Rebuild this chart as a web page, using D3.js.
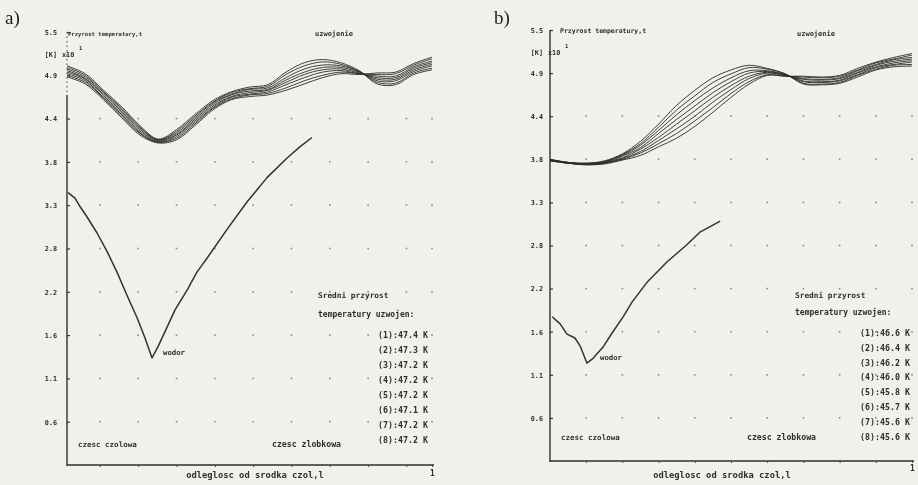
<!DOCTYPE html>
<html>
<head>
<meta charset="utf-8">
<script src="https://cdn.jsdelivr.net/npm/d3@7"></script>
<style>
  html, body { margin: 0; padding: 0; background: #f0f0ec; }
  svg { display: block; }
  text { font-family: "DejaVu Sans Mono", monospace; font-weight: bold; fill: #2e2e2e; }
</style>
</head>
<body>
<svg width="918" height="485"></svg>
<script>
// x positions (fraction of distance from the centre of the end region) shared by the winding curves
const xs = [0, 0.05, 0.1, 0.15, 0.2, 0.25, 0.3, 0.35, 0.4, 0.45, 0.5, 0.55, 0.6, 0.65, 0.7, 0.75, 0.8, 0.85, 0.9, 0.95, 1];

// y axis ticks ([K] x10)
const yTickValues = [5.5, 4.95, 4.4, 3.85, 3.3, 2.75, 2.2, 1.65, 1.1, 0.55];
const yTickLabels = ["5.5", "4.9", "4.4", "3.8", "3.3", "2.8", "2.2", "1.6", "1.1", "0.6"];

// panel a) - winding temperature rise, curves (1)..(8)
const a1 = [5.07, 4.97, 4.76, 4.55, 4.31, 4.14, 4.26, 4.45, 4.63, 4.74, 4.80, 4.83, 4.99, 5.11, 5.15, 5.11, 5.01, 4.84, 4.83, 4.96, 5.02];
const a2 = [5.05, 4.95, 4.74, 4.53, 4.29, 4.13, 4.24, 4.43, 4.61, 4.73, 4.78, 4.81, 4.96, 5.07, 5.12, 5.09, 5.00, 4.86, 4.85, 4.98, 5.04];
const a3 = [5.03, 4.93, 4.73, 4.51, 4.28, 4.13, 4.22, 4.41, 4.60, 4.71, 4.77, 4.79, 4.92, 5.03, 5.08, 5.07, 5.00, 4.88, 4.88, 5.00, 5.07];
const a4 = [5.01, 4.91, 4.71, 4.49, 4.26, 4.12, 4.20, 4.39, 4.58, 4.70, 4.75, 4.77, 4.89, 4.99, 5.05, 5.05, 4.99, 4.90, 4.90, 5.02, 5.09];
const a5 = [4.99, 4.90, 4.69, 4.47, 4.24, 4.11, 4.19, 4.37, 4.56, 4.68, 4.73, 4.76, 4.86, 4.96, 5.02, 5.03, 4.98, 4.92, 4.92, 5.04, 5.11];
const a6 = [4.97, 4.88, 4.67, 4.45, 4.22, 4.10, 4.17, 4.35, 4.54, 4.67, 4.71, 4.74, 4.83, 4.92, 4.99, 5.01, 4.97, 4.94, 4.94, 5.06, 5.13];
const a7 = [4.95, 4.86, 4.66, 4.43, 4.21, 4.10, 4.15, 4.33, 4.53, 4.65, 4.70, 4.72, 4.79, 4.88, 4.95, 4.99, 4.97, 4.96, 4.97, 5.08, 5.16];
const a8 = [4.93, 4.84, 4.64, 4.41, 4.19, 4.09, 4.13, 4.31, 4.51, 4.64, 4.68, 4.70, 4.76, 4.84, 4.92, 4.97, 4.96, 4.98, 4.99, 5.10, 5.18];

// panel a) - hydrogen ("wodor")
const wodorAx = [0.003, 0.022, 0.036, 0.055, 0.082, 0.110, 0.137, 0.164, 0.192, 0.214, 0.233, 0.249, 0.271, 0.296, 0.329, 0.356, 0.384, 0.438, 0.493, 0.548, 0.603, 0.638, 0.671];
const wodorAv = [3.46, 3.39, 3.28, 3.15, 2.95, 2.71, 2.45, 2.16, 1.87, 1.61, 1.36, 1.50, 1.72, 1.97, 2.22, 2.45, 2.63, 2.99, 3.34, 3.65, 3.90, 4.04, 4.16];

// panel b)
const b1 = [3.85, 3.81, 3.80, 3.83, 3.92, 4.08, 4.30, 4.54, 4.73, 4.89, 4.99, 5.05, 5.01, 4.94, 4.81, 4.80, 4.82, 4.90, 4.99, 5.03, 5.04];
const b2 = [3.85, 3.81, 3.80, 3.82, 3.91, 4.05, 4.26, 4.48, 4.66, 4.83, 4.94, 5.02, 5.00, 4.94, 4.82, 4.81, 4.83, 4.92, 5.00, 5.05, 5.06];
const b3 = [3.84, 3.81, 3.79, 3.82, 3.90, 4.03, 4.22, 4.42, 4.60, 4.76, 4.89, 4.98, 4.98, 4.93, 4.84, 4.83, 4.85, 4.93, 5.02, 5.06, 5.09];
const b4 = [3.84, 3.81, 3.79, 3.81, 3.89, 4.00, 4.18, 4.36, 4.53, 4.70, 4.84, 4.95, 4.97, 4.93, 4.85, 4.84, 4.86, 4.95, 5.03, 5.08, 5.11];
const b5 = [3.84, 3.80, 3.79, 3.81, 3.87, 3.98, 4.13, 4.30, 4.47, 4.64, 4.79, 4.91, 4.96, 4.92, 4.87, 4.86, 4.88, 4.96, 5.05, 5.10, 5.13];
const b6 = [3.84, 3.80, 3.79, 3.80, 3.86, 3.95, 4.09, 4.24, 4.40, 4.58, 4.74, 4.88, 4.95, 4.92, 4.88, 4.87, 4.89, 4.98, 5.06, 5.12, 5.15];
const b7 = [3.83, 3.80, 3.78, 3.80, 3.85, 3.93, 4.05, 4.18, 4.34, 4.51, 4.69, 4.84, 4.93, 4.91, 4.90, 4.89, 4.91, 4.99, 5.08, 5.13, 5.18];
const b8 = [3.83, 3.80, 3.78, 3.79, 3.84, 3.90, 4.01, 4.12, 4.27, 4.45, 4.64, 4.81, 4.92, 4.91, 4.91, 4.90, 4.92, 5.01, 5.09, 5.15, 5.20];

const wodorBx = [0.006, 0.028, 0.047, 0.069, 0.083, 0.102, 0.119, 0.146, 0.171, 0.202, 0.227, 0.268, 0.323, 0.378, 0.414, 0.450, 0.470];
const wodorBv = [1.84, 1.75, 1.62, 1.57, 1.47, 1.25, 1.31, 1.45, 1.63, 1.84, 2.03, 2.28, 2.54, 2.76, 2.92, 3.01, 3.06];

// legends
const legendA = ["(1):47.4 K", "(2):47.3 K", "(3):47.2 K", "(4):47.2 K", "(5):47.2 K", "(6):47.1 K", "(7):47.2 K", "(8):47.2 K"];
const legendB = ["(1):46.6 K", "(2):46.4 K", "(3):46.2 K", "(4):46.0 K", "(5):45.8 K", "(6):45.7 K", "(7):45.6 K", "(8):45.6 K"];

// dotted grid columns
const gridA = [0.09, 0.195, 0.3, 0.405, 0.51, 0.615, 0.72, 0.825, 0.93, 1];
const gridB = [0.1, 0.2, 0.3, 0.4, 0.5, 0.6, 0.7, 0.8, 0.9, 1];

const svg = d3.select("svg");
svg.append("rect").attr("width", 918).attr("height", 485).attr("fill", "#f0f0ec");
svg.append("defs").append("filter").attr("id", "soft")
  .append("feGaussianBlur").attr("stdDeviation", 0.35);
const root = svg.append("g").attr("filter", "url(#soft)");

function txt(g, s, x, y, size, anchor) {
  return g.append("text").attr("x", x).attr("y", y)
    .attr("text-anchor", anchor || "start")
    .style("font-size", size + "px")
    .text(s);
}

function drawPanel(p) {
  const x = d3.scaleLinear().domain([0, 1]).range([p.l, p.r]);
  const y = d3.scaleLinear().domain([0, 5.5]).range([p.b, p.t]);
  const g = root.append("g");

  // dotted grid
  yTickValues.slice(2).forEach(v => {
    g.selectAll(null).data(p.grid).enter().append("rect")
      .attr("x", d => x(d) - 0.8).attr("y", y(v) - 0.8)
      .attr("width", 1.6).attr("height", 1.6)
      .attr("fill", "#8a8a8a");
  });

  // y axis
  const axis = d3.axisLeft(y)
    .tickValues(yTickValues)
    .tickFormat((d, i) => yTickLabels[i])
    .tickSizeInner(-3).tickSizeOuter(0).tickPadding(p.pad);
  const ga = g.append("g").attr("transform", `translate(${p.l},0)`).call(axis);
  ga.select(".domain").remove();
  ga.selectAll("line").attr("stroke", "#333").attr("stroke-width", 1.2);
  ga.selectAll("text").style("font-size", "6.8px").attr("dy", "0.35em");

  g.append("line")
    .attr("x1", p.l).attr("x2", p.l)
    .attr("y1", y(p.solidTop)).attr("y2", p.b + 1)
    .attr("stroke", "#2e2e2e").attr("stroke-width", 1.4);
  if (p.solidTop < 5.5) {
    g.append("line")
      .attr("x1", p.l).attr("x2", p.l)
      .attr("y1", y(5.5)).attr("y2", y(p.solidTop))
      .attr("stroke", "#555").attr("stroke-width", 1.1)
      .attr("stroke-dasharray", "1.5,3");
  }

  // x axis
  g.append("line")
    .attr("x1", p.l).attr("x2", p.r + 2)
    .attr("y1", p.b).attr("y2", p.b)
    .attr("stroke", "#2e2e2e").attr("stroke-width", 1.5);
  const xa = d3.axisBottom(x).tickValues(p.grid).tickSize(2).tickFormat("");
  const gx = g.append("g").attr("transform", `translate(0,${p.b})`).call(xa);
  gx.select(".domain").remove();
  gx.selectAll("line").attr("stroke", "#444");

  // winding curves
  const line = d3.line()
    .x((d, i) => x(xs[i]))
    .y(d => y(d))
    .curve(d3.curveCatmullRom.alpha(0.5));
  g.selectAll(null).data(p.series).enter().append("path")
    .attr("d", d => line(d))
    .attr("fill", "none")
    .attr("stroke", "#2a2a2a")
    .attr("stroke-width", 0.9);

  // hydrogen curve
  const wline = d3.line()
    .x((d, i) => x(p.wx[i]))
    .y(d => y(d));
  g.append("path")
    .attr("d", wline(p.wv))
    .attr("fill", "none")
    .attr("stroke", "#333")
    .attr("stroke-width", 1.5)
    .attr("stroke-linejoin", "round");

  // texts
  g.append("text").attr("x", p.tagX).attr("y", 24)
    .style("font-family", "'Liberation Serif', serif")
    .style("font-weight", "normal")
    .style("font-size", "19px")
    .style("fill", "#1e1e1e")
    .text(p.tag);
  txt(g, "Przyrost temperatury,t", p.titleX, p.titleY, p.titleSize);
  txt(g, "uzwojenie", p.uzX, 36, 7);
  txt(g, "[K]", p.l - p.pad, p.kY, 6.8, "end");
  txt(g, "x10", p.l - p.pad + 5, p.kY, 6.8);
  txt(g, "1", p.l - p.pad + 22, p.kY - 7, 5.5);
  txt(g, "wodor", p.wodorX, p.wodorY, 7.3);
  txt(g, "Sredni przyrost", p.legX0, 298, 7.8);
  txt(g, "temperatury uzwojen:", p.legX0, p.legY2, 8);
  g.selectAll(null).data(p.legend).enter().append("text")
    .attr("x", p.legX)
    .attr("y", (d, i) => p.legY + i * p.legStep)
    .style("font-size", "8.3px")
    .text(d => d);
  txt(g, "czesc czolowa", p.l + 11, p.czY, 7.5);
  txt(g, "czesc zlobkowa", p.zlX, p.czY, 8.2);
  txt(g, "odleglosc od srodka czol,l", p.odX, 478, 8.8, "middle");
  txt(g, "1", p.r - 2, p.oneY, 8);
}

drawPanel({
  tag: "a)", tagX: 5,
  l: 67, r: 432, b: 465, t: 32, pad: 10, solidTop: 4.7,
  grid: gridA, series: [a1, a2, a3, a4, a5, a6, a7, a8],
  wx: wodorAx, wv: wodorAv, legend: legendA,
  titleX: 68, titleY: 36, titleSize: 5.6, uzX: 315, kY: 57,
  wodorX: 163, wodorY: 355,
  legX0: 318, legY2: 317, legX: 378, legY: 338, legStep: 15,
  czY: 447, zlX: 272, odX: 255, oneY: 476
});

drawPanel({
  tag: "b)", tagX: 494,
  l: 550, r: 912, b: 461, t: 30, pad: 7, solidTop: 5.5,
  grid: gridB, series: [b1, b2, b3, b4, b5, b6, b7, b8],
  wx: wodorBx, wv: wodorBv, legend: legendB,
  titleX: 560, titleY: 33, titleSize: 6.5, uzX: 797, kY: 55,
  wodorX: 600, wodorY: 360,
  legX0: 795, legY2: 315, legX: 860, legY: 336, legStep: 14.8,
  czY: 440, zlX: 747, odX: 722, oneY: 471
});
</script>
</body>
</html>
